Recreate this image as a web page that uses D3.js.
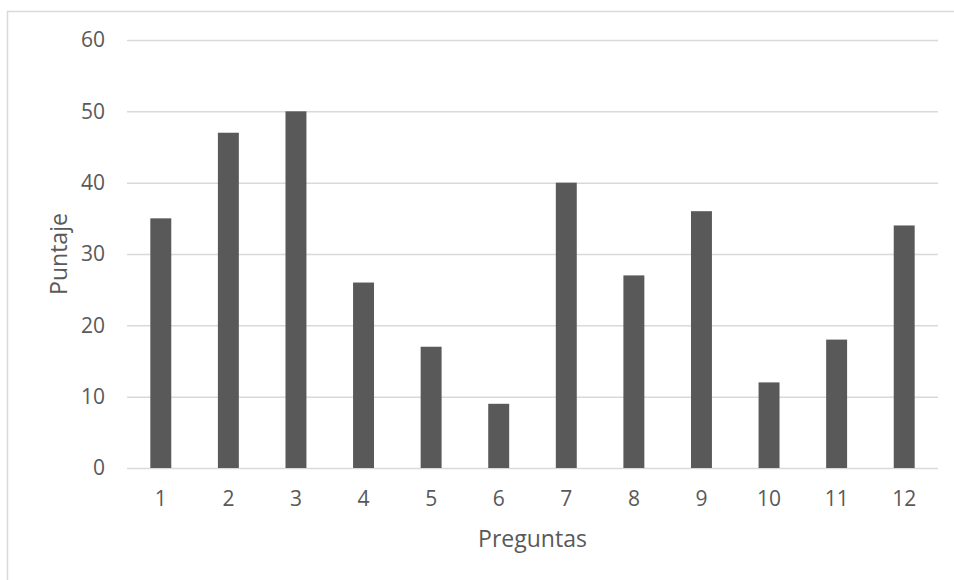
<!DOCTYPE html>
<html>
<head>
<meta charset="utf-8">
<script src="https://cdn.jsdelivr.net/npm/d3@7"></script>
<style>
  html, body { margin: 0; padding: 0; background: #fff; }
  svg { display: block; }
  text { font-family: "Open Sans", sans-serif; fill: #595959; }
</style>
</head>
<body>
<svg id="chart" width="954" height="580"></svg>
<script>
// Puntaje por pregunta
const categories = ["1", "2", "3", "4", "5", "6", "7", "8", "9", "10", "11", "12"];
const values = [35, 47, 50, 26, 17, 9, 40, 27, 36, 12, 18, 34];
const yTicks = [0, 10, 20, 30, 40, 50, 60];
const xTitle = "Preguntas";
const yTitle = "Puntaje";

const svg = d3.select("#chart");
const plot = { left: 127, right: 938, top: 40, bottom: 468 };

// outer chart frame (runs past the right and bottom edges)
svg.append("rect")
  .attr("x", 7.5).attr("y", 11.5)
  .attr("width", 1000).attr("height", 700)
  .attr("fill", "none")
  .attr("stroke", "#d9d9d9")
  .attr("stroke-width", 1.5);

const x = d3.scaleBand()
  .domain(categories)
  .range([plot.left, plot.right])
  .paddingInner(0.69)
  .paddingOuter(0.345);

const y = d3.scaleLinear()
  .domain([0, 60])
  .range([plot.bottom, plot.top]);

// horizontal gridlines + y tick labels
const yAxis = d3.axisLeft(y)
  .tickValues(yTicks)
  .tickSize(-(plot.right - plot.left))
  .tickPadding(22)
  .tickFormat(d3.format("d"));

const gy = svg.append("g")
  .attr("transform", `translate(${plot.left},0)`)
  .call(yAxis);
gy.select(".domain").remove();
gy.selectAll(".tick line")
  .attr("stroke", "#d9d9d9")
  .attr("stroke-width", 1.5);
gy.selectAll(".tick text")
  .style("font-size", "21px")
  .style("fill", "#595959");

// bars
svg.append("g")
  .selectAll("rect")
  .data(values)
  .join("rect")
  .attr("x", (d, i) => x(categories[i]))
  .attr("y", d => y(d))
  .attr("width", x.bandwidth())
  .attr("height", d => y(0) - y(d))
  .attr("fill", "#595959");

// category labels
const xAxis = d3.axisBottom(x).tickSize(0).tickPadding(23);
const gx = svg.append("g")
  .attr("transform", `translate(0,${plot.bottom})`)
  .call(xAxis);
gx.select(".domain").remove();
gx.selectAll(".tick text")
  .style("font-size", "21px")
  .style("fill", "#595959");

// axis titles
svg.append("text")
  .attr("x", (plot.left + plot.right) / 2)
  .attr("y", 547)
  .attr("text-anchor", "middle")
  .style("font-size", "23px")
  .text(xTitle);

svg.append("text")
  .attr("transform", `translate(67,${(plot.top + plot.bottom) / 2}) rotate(-90)`)
  .attr("text-anchor", "middle")
  .style("font-size", "23px")
  .text(yTitle);
</script>
</body>
</html>
